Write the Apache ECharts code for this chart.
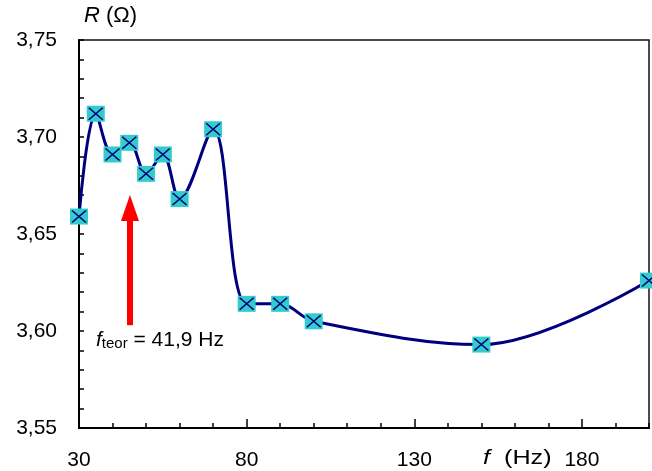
<!DOCTYPE html>
<html>
<head>
<meta charset="utf-8">
<script src="https://cdn.jsdelivr.net/npm/echarts@6/dist/echarts.min.js"></script>
<style>
  html, body { margin: 0; padding: 0; background: #fff; }
  #chart { width: 652px; height: 471px; }
</style>
</head>
<body>
<div id="chart"></div>
<script>
// Measured resistance R (Ω) versus frequency f (Hz)
const frequencies = [30, 35, 40, 45, 50, 55, 60, 70, 80, 90, 100, 150, 200];
const resistance = [3.659, 3.712, 3.691, 3.697, 3.681, 3.691, 3.668, 3.704, 3.614, 3.614, 3.605, 3.593, 3.626];
const xLabelValues = [30, 80, 130, 180];
const xMajorTicks = [80, 130, 180];
// Theoretical resonance marker (arrow shaft from / to, in R units)
const arrowF = 45.2;
const arrowFrom = 3.6030;
const arrowTo = 3.6634;

const FONT = '"Liberation Sans", Arial, sans-serif';
const points = frequencies.map((f, i) => [f, resistance[i]]);

const chart = echarts.init(document.getElementById('chart'), null, { renderer: 'canvas' });

chart.setOption({
  animation: false,
  backgroundColor: '#fff',
  grid: {
    left: 79, right: 2, top: 40, bottom: 43,
    show: true, borderColor: '#111', borderWidth: 1.5, backgroundColor: 'transparent'
  },
  xAxis: [
    {
      type: 'value', min: 30, max: 200, interval: 10,
      axisLine: { show: true, onZero: false, lineStyle: { color: '#000', width: 2 } },
      axisTick: { show: true, inside: true, length: 5, lineStyle: { color: '#000', width: 1.5 } },
      axisLabel: {
        margin: 22, color: '#000', fontFamily: FONT, fontSize: 21,
        formatter: v => xLabelValues.includes(v) ? String(v) : ''
      },
      splitLine: { show: false }
    },
    {
      type: 'value', min: 30, max: 200, position: 'bottom',
      axisLine: { show: false },
      axisTick: { show: true, inside: true, length: 9, customValues: xMajorTicks, lineStyle: { color: '#000', width: 1.5 } },
      axisLabel: { show: false },
      splitLine: { show: false }
    }
  ],
  yAxis: {
    type: 'value', min: 3.55, max: 3.75, interval: 0.05,
    axisLine: { show: true, onZero: false, lineStyle: { color: '#000', width: 2 } },
    axisTick: { show: true, inside: true, length: 5, lineStyle: { color: '#000', width: 1.5 } },
    minorTick: { show: true, splitNumber: 5, length: 5, lineStyle: { color: '#000', width: 1.5 } },
    axisLabel: {
      margin: 22, color: '#000', fontFamily: FONT, fontSize: 21,
      formatter: v => v.toFixed(2).replace('.', ',')
    },
    splitLine: { show: false }
  },
  series: [
    {
      type: 'line', data: points, smooth: 0.35, showSymbol: false,
      lineStyle: { color: '#00007f', width: 3 }, z: 2,
      markLine: {
        silent: true, animation: false,
        symbol: ['none', 'triangle'], symbolSize: [18, 26],
        lineStyle: { color: '#ff0000', width: 6, type: 'solid' },
        label: { show: false },
        data: [[{ coord: [arrowF, arrowFrom] }, { coord: [arrowF, arrowTo] }]]
      }
    },
    {
      type: 'scatter', data: points, symbol: 'rect', symbolSize: [18, 16],
      itemStyle: { color: '#33cccc', opacity: 1 }, z: 3
    },
    {
      type: 'scatter', data: points, symbol: 'path://M0,0L10,10M10,0L0,10', symbolSize: [14, 12],
      itemStyle: { color: 'none', borderColor: '#00007f', borderWidth: 1.5, opacity: 1 }, z: 4
    }
  ],
  graphic: [
    {
      type: 'text', left: 84, top: 5,
      style: {
        text: '{i|R}{n| (Ω)}',
        rich: {
          i: { fontFamily: FONT, fontSize: 22, fontStyle: 'italic', fill: '#000' },
          n: { fontFamily: FONT, fontSize: 22, fill: '#000' }
        }
      }
    },
    {
      type: 'text', x: 483, y: 448, scaleX: 1.2,
      style: {
        text: '{i|f}{n|  (Hz)}',
        rich: {
          i: { fontFamily: FONT, fontSize: 21, fontStyle: 'italic', fill: '#000' },
          n: { fontFamily: FONT, fontSize: 21, fill: '#000' }
        }
      }
    },
    {
      type: 'text', left: 96, top: 330,
      style: {
        text: '{i|f}{s|teor}{n| = 41,9 Hz}',
        rich: {
          i: { fontFamily: FONT, fontSize: 21, fontStyle: 'italic', fill: '#000', verticalAlign: 'bottom', lineHeight: 24 },
          s: { fontFamily: FONT, fontSize: 15, fill: '#000', verticalAlign: 'bottom', lineHeight: 20 },
          n: { fontFamily: FONT, fontSize: 21, fill: '#000', verticalAlign: 'bottom', lineHeight: 24 }
        }
      }
    }
  ]
});
</script>
</body>
</html>
